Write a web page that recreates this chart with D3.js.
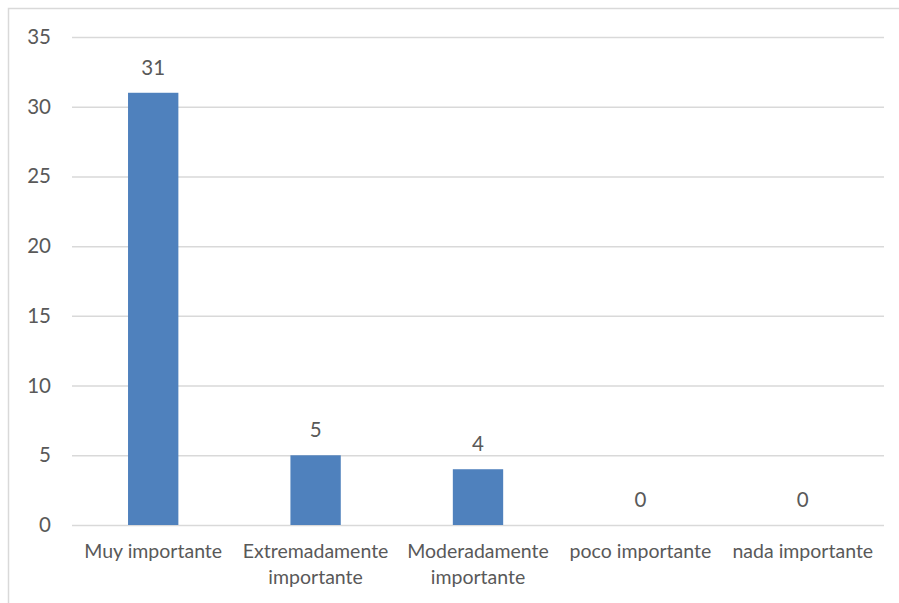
<!DOCTYPE html>
<html>
<head>
<meta charset="utf-8">
<script src="https://cdn.jsdelivr.net/npm/d3@7"></script>
<style>
  body { margin: 0; background: #fff; }
  text { font-family: Lato, "Open Sans", sans-serif; fill: #595959; }
</style>
</head>
<body>
<div id="container"></div>
<script>
var w = 899,
    h = 603;

var categories = [
    ['Muy importante'],
    ['Extremadamente', 'importante'],
    ['Moderadamente', 'importante'],
    ['poco importante'],
    ['nada importante']
];
var values = [31, 5, 4, 0, 0];
var yTicks = [0, 5, 10, 15, 20, 25, 30, 35];

var margin = { left: 72, right: 15, top: 37, bottom: 78 };

var svg = d3.select('#container')
    .append('svg')
    .attr('width', w)
    .attr('height', h);

// chart frame (runs off the right/bottom edge)
svg.append('rect')
    .attr('x', 8.5)
    .attr('y', 8.5)
    .attr('width', w)
    .attr('height', h)
    .attr('fill', 'none')
    .attr('stroke', '#d9d9d9')
    .attr('stroke-width', 1.5);

var x = d3.scaleBand()
    .domain(d3.range(categories.length))
    .range([margin.left, w - margin.right]);

var y = d3.scaleLinear()
    .domain([0, 35])
    .range([h - margin.bottom, margin.top]);

// gridlines + tick labels
var yAxis = svg.append('g')
    .attr('transform', 'translate(' + margin.left + ',0)')
    .call(d3.axisLeft(y)
        .tickValues(yTicks)
        .tickSize(-(w - margin.left - margin.right))
        .tickPadding(21));
yAxis.select('.domain').remove();
yAxis.selectAll('.tick line')
    .attr('stroke', '#d9d9d9')
    .attr('stroke-width', 1.5);
yAxis.selectAll('.tick text')
    .attr('font-size', 20.5)
    .style('font-family', 'Lato, sans-serif')
    .attr('fill', '#595959');

var barW = x.bandwidth() * 0.31;

svg.selectAll('.bar')
    .data(values)
    .enter()
    .append('rect')
    .attr('class', 'bar')
    .attr('x', function(d, i) { return x(i) + x.bandwidth() / 2 - barW / 2; })
    .attr('y', function(d) { return y(d); })
    .attr('width', barW)
    .attr('height', function(d) { return y(0) - y(d); })
    .attr('fill', '#4f81bd');

// value labels
svg.selectAll('.val')
    .data(values)
    .enter()
    .append('text')
    .attr('class', 'val')
    .attr('x', function(d, i) { return x(i) + x.bandwidth() / 2; })
    .attr('y', function(d) { return y(d) - 18; })
    .attr('text-anchor', 'middle')
    .attr('font-size', 20.5)
    .text(function(d) { return d; });

// category labels
var cat = svg.selectAll('.cat')
    .data(categories)
    .enter()
    .append('text')
    .attr('class', 'cat')
    .attr('text-anchor', 'middle')
    .attr('font-size', 19.5)
    .attr('transform', function(d, i) {
        return 'translate(' + (x(i) + x.bandwidth() / 2) + ',' + (y(0) + 33) + ')';
    });

cat.selectAll('tspan')
    .data(function(d) { return d; })
    .enter()
    .append('tspan')
    .attr('x', 0)
    .attr('dy', function(d, i) { return i === 0 ? 0 : 26; })
    .text(function(d) { return d; });
</script>
</body>
</html>
